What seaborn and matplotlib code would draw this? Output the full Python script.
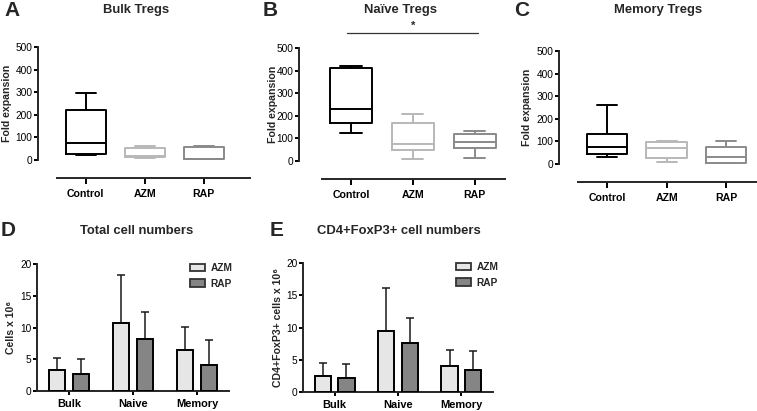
import numpy as np
import pandas as pd
import seaborn as sns
import matplotlib
matplotlib.use("Agg")
import matplotlib.pyplot as plt
from matplotlib.patches import Patch

# ---------------- data ----------------
groups = ["Control", "AZM", "RAP"]
# five values per group: min, Q1, median, Q3, max
bulk_control = [20, 25, 74, 221, 298]
bulk_azm = [10, 14, 18, 53, 61]
bulk_rap = [3, 4, 6, 56, 63]
naive_control = [122, 170, 229, 410, 421]
naive_azm = [7, 49, 75, 167, 208]
naive_rap = [12, 57, 85, 120, 133]
memory_control = [32, 43, 74, 131, 260]
memory_azm = [10, 25, 72, 97, 100]
memory_rap = [1, 6, 30, 75, 102]

subsets = ["Bulk", "Naive", "Memory"]
treatments = ["AZM", "RAP"]
total_azm_mean = [3.3, 10.7, 6.5]
total_azm_sd = [1.9, 7.5, 3.6]
total_rap_mean = [2.6, 8.2, 4.1]
total_rap_sd = [2.5, 4.3, 3.9]
foxp3_azm_mean = [2.5, 9.5, 4.0]
foxp3_azm_sd = [2.0, 6.7, 2.5]
foxp3_rap_mean = [2.2, 7.6, 3.4]
foxp3_rap_sd = [2.1, 3.8, 3.0]

box_titles = ["Bulk Tregs", "Naïve Tregs", "Memory Tregs"]
bar_titles = ["Total cell numbers", "CD4+FoxP3+ cell numbers"]
bar_ylabels = ["Cells x 10⁶", "CD4+FoxP3+ cells x 10⁶"]

# ---------------- style ----------------
sns.set_style("ticks")
plt.rcParams["font.family"] = ["Liberation Sans", "DejaVu Sans"]
plt.rcParams["axes.linewidth"] = 1.4
plt.rcParams["xtick.major.width"] = 1.4
plt.rcParams["ytick.major.width"] = 1.4
plt.rcParams["xtick.major.size"] = 3.5
plt.rcParams["ytick.major.size"] = 3.0
plt.rcParams["xtick.color"] = "black"
plt.rcParams["ytick.color"] = "black"

W, H = 757, 411
fig = plt.figure(figsize=(W / 100, H / 100), dpi=100)
fig.patch.set_facecolor("white")


def ax_at(l, t, r, b):
    return fig.add_axes([l / W, 1 - b / H, (r - l) / W, (b - t) / H])


def ftext(x, y, s, **kw):
    fig.text(x / W, 1 - y / H, s, **kw)


box_palette = {"Control": "black", "AZM": "#b8b8b8", "RAP": "#8a8a8a"}
bar_palette = {"AZM": "#e6e6e6", "RAP": "#858585"}

TICK_FS = 7.3
XT_FS = 7.6
LAB_FS = 7.6
TITLE_FS = 9.4

# ---------------- box plots (A, B, C) ----------------
box_data = [
    (bulk_control, bulk_azm, bulk_rap),
    (naive_control, naive_azm, naive_rap),
    (memory_control, memory_azm, memory_rap),
]
# (left px, top px, right px, bottom px, xlim, spine bounds, ylabel right-edge px)
box_geo = [
    (38, 47, 251.6, 160, (-0.81, 2.81), (-0.49, 2.78), 12),
    (299, 48, 512, 161, (-0.84, 2.6), (-0.47, 2.48), 278),
    (559, 51, 757, 164, (-0.81, 2.52), (-0.49, 2.52), 532),
]
box_axes = []
for (vals, geo, title) in zip(box_data, box_geo, box_titles):
    l, t, r, b, xl, bounds, lab_x = geo
    ax = ax_at(l, t, r, b)
    df = pd.DataFrame({
        "group": np.repeat(groups, [len(v) for v in vals]),
        "value": np.concatenate(vals),
    })
    sns.boxplot(data=df, x="group", y="value", hue="group", order=groups,
                palette=box_palette, fill=False, whis=(0, 100), width=0.68,
                linewidth=1.4, legend=False, ax=ax)
    ax.set_xlim(*xl)
    ax.set_ylim(0, 500)
    ax.set_yticks([0, 100, 200, 300, 400, 500])
    ax.set_ylabel("Fold expansion", fontsize=LAB_FS, fontweight="bold")
    ax.yaxis.set_label_coords((lab_x - l) / (r - l), 0.5)
    ax.set_xlabel("")
    ax.spines["top"].set_visible(False)
    ax.spines["right"].set_visible(False)
    ax.spines["bottom"].set_position(("outward", 13))
    ax.spines["bottom"].set_bounds(*bounds)
    ax.tick_params(axis="y", labelsize=TICK_FS, pad=1)
    ax.tick_params(axis="x", labelsize=XT_FS, pad=4, length=4)
    for lbl in ax.get_xticklabels():
        lbl.set_fontweight("bold")
    ax.set_facecolor("none")
    box_axes.append(ax)

# significance bar on panel B
axB = box_axes[1]
axB.plot([-0.06, 2.05], [566, 566], color="#333333", lw=0.9, clip_on=False)
axB.text(1.0, 574, "*", ha="center", va="bottom", fontsize=8, fontweight="bold",
         clip_on=False)

# titles / letters for top row
ftext(136, 10, box_titles[0], ha="center", va="center", fontsize=TITLE_FS, fontweight="bold")
ftext(401, 10, box_titles[1], ha="center", va="center", fontsize=TITLE_FS, fontweight="bold")
ftext(658, 10, box_titles[2], ha="center", va="center", fontsize=TITLE_FS, fontweight="bold")
ftext(12, 11, "A", ha="center", va="center", fontsize=15, fontweight="bold")
ftext(270, 11, "B", ha="center", va="center", fontsize=15, fontweight="bold")
ftext(522, 11, "C", ha="center", va="center", fontsize=15, fontweight="bold")

# ---------------- bar charts (D, E) ----------------
bar_sets = [
    (total_azm_mean, total_azm_sd, total_rap_mean, total_rap_sd),
    (foxp3_azm_mean, foxp3_azm_sd, foxp3_rap_mean, foxp3_rap_sd),
]
bar_geo = [(37, 264, 229, 391, 16), (303, 263, 493, 392, 283)]
legend_pos = [(190, 263), (456, 262)]
for (vals, geo, ylab, lpos) in zip(bar_sets, bar_geo, bar_ylabels, legend_pos):
    azm_m, azm_s, rap_m, rap_s = vals
    l, t, r, b, lab_x = geo
    ax = ax_at(l, t, r, b)
    df = pd.DataFrame({
        "subset": subsets * 2,
        "treatment": np.repeat(treatments, len(subsets)),
        "mean": list(azm_m) + list(rap_m),
        "sd": list(azm_s) + list(rap_s),
    })
    sns.barplot(data=df, x="subset", y="mean", hue="treatment", order=subsets,
                hue_order=treatments, palette=bar_palette, saturation=1,
                errorbar=None, width=0.74, gap=0.3, edgecolor="black",
                linewidth=1.4, legend=False, ax=ax, zorder=3)
    # upper-only SD error bars, aligned with the drawn bars
    for cont, tr in zip(ax.containers, treatments):
        sub = df[df["treatment"] == tr]
        xs = [p.get_x() + p.get_width() / 2 for p in cont]
        ax.errorbar(xs, sub["mean"].values,
                    yerr=[np.zeros(len(sub)), sub["sd"].values],
                    fmt="none", ecolor="#1a1a1a", elinewidth=1.1,
                    capsize=3, capthick=1.1, zorder=2)
    ax.set_xlim(-0.5, 2.5)
    ax.set_ylim(0, 20)
    ax.set_yticks([0, 5, 10, 15, 20])
    ax.set_xlabel("")
    ax.set_ylabel(ylab, fontsize=LAB_FS, fontweight="bold")
    ax.yaxis.set_label_coords((lab_x - l) / (r - l), 0.5)
    ax.spines["top"].set_visible(False)
    ax.spines["right"].set_visible(False)
    ax.tick_params(axis="y", labelsize=TICK_FS, pad=1)
    ax.tick_params(axis="x", labelsize=XT_FS + 0.3, pad=2.5, length=3)
    for lbl in ax.get_xticklabels():
        lbl.set_fontweight("bold")
    ax.set_facecolor("none")
    handles = [Patch(facecolor=bar_palette[tn], edgecolor="#333333", linewidth=1.3,
                     label=tn) for tn in treatments]
    leg = ax.legend(handles=handles, loc="upper left",
                    bbox_to_anchor=(lpos[0] / W, 1 - lpos[1] / H),
                    bbox_transform=fig.transFigure, frameon=False,
                    fontsize=TICK_FS, handlelength=1.45, handleheight=0.75,
                    handletextpad=0.6, labelspacing=0.55, borderpad=0,
                    borderaxespad=0)
    for txt in leg.get_texts():
        txt.set_fontweight("bold")

ftext(137, 231, bar_titles[0], ha="center", va="center", fontsize=TITLE_FS, fontweight="bold")
ftext(399, 231, bar_titles[1], ha="center", va="center", fontsize=TITLE_FS, fontweight="bold")
ftext(8, 230, "D", ha="center", va="center", fontsize=15, fontweight="bold")
ftext(277, 230, "E", ha="center", va="center", fontsize=15, fontweight="bold")

fig.savefig("out.png", dpi=100, facecolor="white")
